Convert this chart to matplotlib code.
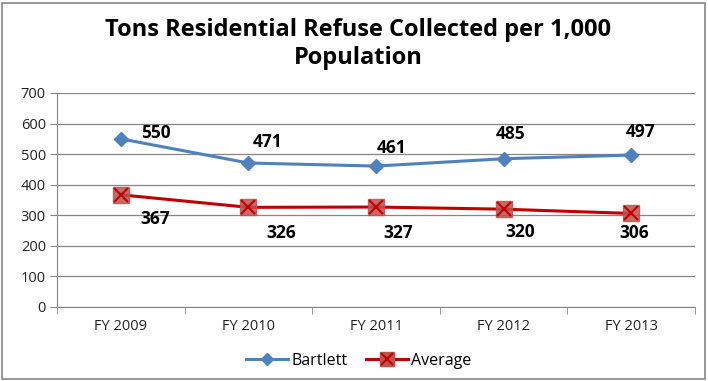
import matplotlib
matplotlib.use("Agg")
import matplotlib.pyplot as plt
from matplotlib.lines import Line2D
from matplotlib.patches import Rectangle

categories = ["FY 2009", "FY 2010", "FY 2011", "FY 2012", "FY 2013"]
bartlett = [550, 471, 461, 485, 497]
average = [367, 326, 327, 320, 306]
yticks = [0, 100, 200, 300, 400, 500, 600, 700]

# label offsets in pixels (styling)
b_off = [(35, 6), (19, 21), (16, 18), (7, 25), (9, 23)]
a_off = [(34, -24), (33, -26), (22, -26), (17, -23), (3, -20)]

plt.rcParams['font.family'] = ['Open Sans', 'DejaVu Sans']

fig = plt.figure(figsize=(7.08, 3.81), dpi=100)
ax = fig.add_axes([57/708, 1 - 307/381, (695-57)/708, (307-93)/381])

x = list(range(len(categories)))
blue = "#4F81BD"
red = "#C00000"

ax.plot(x, bartlett, color=blue, lw=2.2, marker="D", ms=7, mfc=blue, mec=blue, zorder=3)
ax.plot(x, average, color=red, lw=2.2, zorder=3)
ax.plot(x, average, ls="none", marker="s", ms=11, mfc="#C0504D", mec="#C0504D", alpha=0.85, zorder=4)
ax.plot(x, average, ls="none", marker="x", ms=10, mew=1.5, color=red, zorder=5)

lab_fs = 12.5
for i, v in enumerate(bartlett):
    ax.annotate(str(v), (i, v), xytext=b_off[i], textcoords="offset pixels",
                ha="center", va="center", fontsize=lab_fs, fontweight="bold")
for i, v in enumerate(average):
    ax.annotate(str(v), (i, v), xytext=a_off[i], textcoords="offset pixels",
                ha="center", va="center", fontsize=lab_fs, fontweight="bold")

ax.set_xlim(-0.5, len(categories) - 0.5)
ax.set_ylim(0, 700)
ax.set_yticks(yticks)
ax.set_yticklabels([str(t) for t in yticks], fontsize=10.5, color="#222222")
ax.set_xticks(x)
ax.set_xticklabels(categories, fontsize=10.5, color="#222222")
ax.set_xticks([i - 0.5 for i in range(len(categories) + 1)], minor=True)
ax.tick_params(axis="x", which="major", length=0, pad=9)
ax.tick_params(axis="x", which="minor", length=5, color="#868686")
ax.tick_params(axis="y", length=5, color="#868686", pad=3)
ax.grid(axis="y", color="#868686", lw=0.9)
ax.set_axisbelow(True)
for s in ["top", "right"]:
    ax.spines[s].set_visible(False)
ax.spines["left"].set_color("#868686")
ax.spines["bottom"].set_color("#868686")

fig.text(0.506, 1 - 30/381, "Tons Residential Refuse Collected per 1,000", ha="center", va="center",
         fontsize=17, fontweight="bold")
fig.text(0.506, 1 - 58/381, "Population", ha="center", va="center",
         fontsize=17, fontweight="bold")

h1 = Line2D([], [], color=blue, lw=2.2, marker="D", ms=6, mfc=blue, mec=blue)
h2a = Line2D([], [], color=red, lw=2.2, marker="s", ms=10, mfc="#C0504D", mec="#C0504D")
h2b = Line2D([], [], ls="none", marker="x", ms=9, mew=1.5, color=red)
fig.legend([h1, (h2a, h2b)], ["Bartlett", "Average"], loc="center", bbox_to_anchor=(0.507, 1 - 361/381),
           ncol=2, frameon=False, fontsize=11.5, handlelength=2.6, columnspacing=1.2, handletextpad=0.2)

fig.patches.append(Rectangle((2/708, 2/381), 703/708, 376/381, transform=fig.transFigure,
                             fill=False, edgecolor="#868686", lw=1.2))

fig.savefig("out.png", dpi=100)
